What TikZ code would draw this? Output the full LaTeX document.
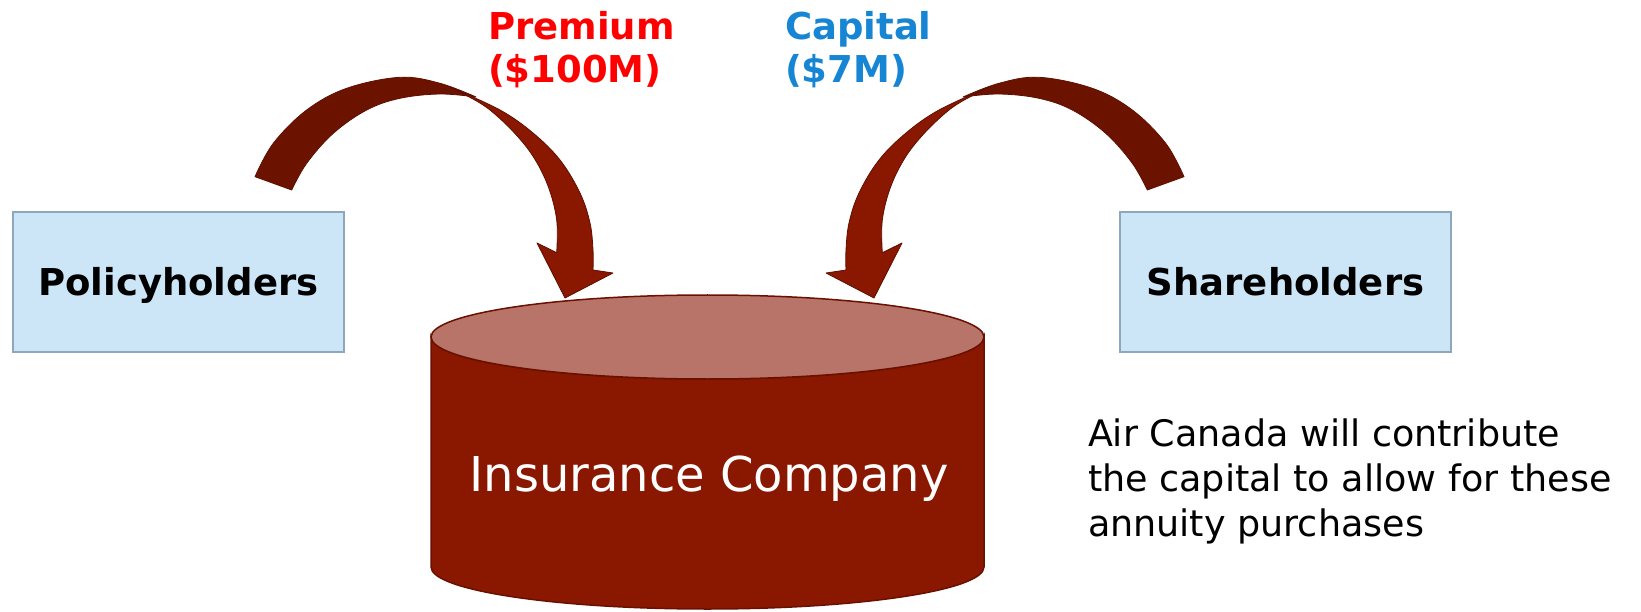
\documentclass[tikz,border=0pt]{standalone}
\usepackage{fontspec}
\setmainfont{DejaVu Sans}
\definecolor{boxfill}{HTML}{CCE6F8}
\definecolor{boxline}{HTML}{8FA7BD}
\definecolor{cylbody}{HTML}{8A1800}
\definecolor{cyltop}{HTML}{B87468}
\definecolor{cyledge}{HTML}{6A1000}
\definecolor{flowfront}{HTML}{8A1800}
\definecolor{flowback}{HTML}{6C1300}
\definecolor{flowedge}{HTML}{5E0F00}
\definecolor{premred}{HTML}{FF0000}
\definecolor{capblue}{HTML}{1686D4}

% curved block arrow: darker back band from the tail, lighter front band to the head
\newcommand\curvedflow{%
  \filldraw[flowbackband]
    plot[smooth, tension=0.6] coordinates {(255,176.7) (273.3,143.3) (306.7,110) (346.7,88.3) (400,77.3) (440,83.3) (476,97)}
    -- plot[smooth, tension=0.6] coordinates {(476,97) (440,94) (400,98.3) (366.7,110) (333.3,133.3) (306.7,163.3) (291.7,190)}
    -- cycle;
  \filldraw[flowfrontband]
    plot[smooth, tension=0.6] coordinates {(450,87) (500,110) (533,133) (560,160) (580,193) (590,223) (593,250) (593,270)}
    -- (613,273) -- (565,298) -- (537,243) -- (556.7,252.7)
    -- plot[smooth, tension=0.6] coordinates {(556.7,252.7) (556.7,220) (548.3,186.7) (533.3,156.7) (513.3,131.7) (490,110) (473,99)}
    -- cycle;
}

\begin{document}
\begin{tikzpicture}[x=1pt, y=-1pt,
  every node/.style={inner sep=0pt, outer sep=0pt},
  partybox/.style={draw=boxline, fill=boxfill, line width=1.5pt,
    minimum width=331pt, minimum height=140pt,
    font=\bfseries\fontsize{37}{44}\selectfont, text height=27pt, text depth=0pt},
  flowlabel/.style={anchor=base west, align=left, font=\bfseries\fontsize{37}{43}\selectfont},
  flowbackband/.style={fill=flowback, draw=flowedge, line width=0.8pt, line join=round},
  flowfrontband/.style={fill=flowfront, draw=flowedge, line width=0.8pt, line join=round},
  cylstyle/.style={draw=cyledge, line width=1.5pt}]

\useasboundingbox (0,0) rectangle (1641,612);

% parties
\node[partybox] (pol) at (178.3,282) {Policyholders};
\node[partybox] (sha) at (1285.5,282) {Shareholders};

% insurance company drum
\filldraw[cylstyle, fill=cylbody] (431,337) -- (431,567)
  arc[start angle=180, end angle=0, x radius=276.5, y radius=42]
  -- (984,337) arc[start angle=0, end angle=180, x radius=276.5, y radius=42] -- cycle;
\filldraw[cylstyle, fill=cyltop] (707.5,337) ellipse[x radius=276.5, y radius=42];
\node[anchor=base, text=white, font=\fontsize{48}{58}\selectfont] (ins) at (709,491.7) {Insurance Company};

% money flows
\curvedflow
\begin{scope}[shift={(1439,0)}, xscale=-1]
  \curvedflow
\end{scope}

% labels (base anchor sits on the last line)
\node[flowlabel, text=premred] (prem) at (488,83) {Premium\\(\$100M)};
\node[flowlabel, text=capblue] (cap) at (785,83) {Capital\\(\$7M)};

\node[anchor=base west, align=left, font=\fontsize{36.5}{45}\selectfont] (note) at (1088,536.7)
  {Air Canada will contribute\\the capital to allow for these\\annuity purchases};
\end{tikzpicture}
\end{document}
